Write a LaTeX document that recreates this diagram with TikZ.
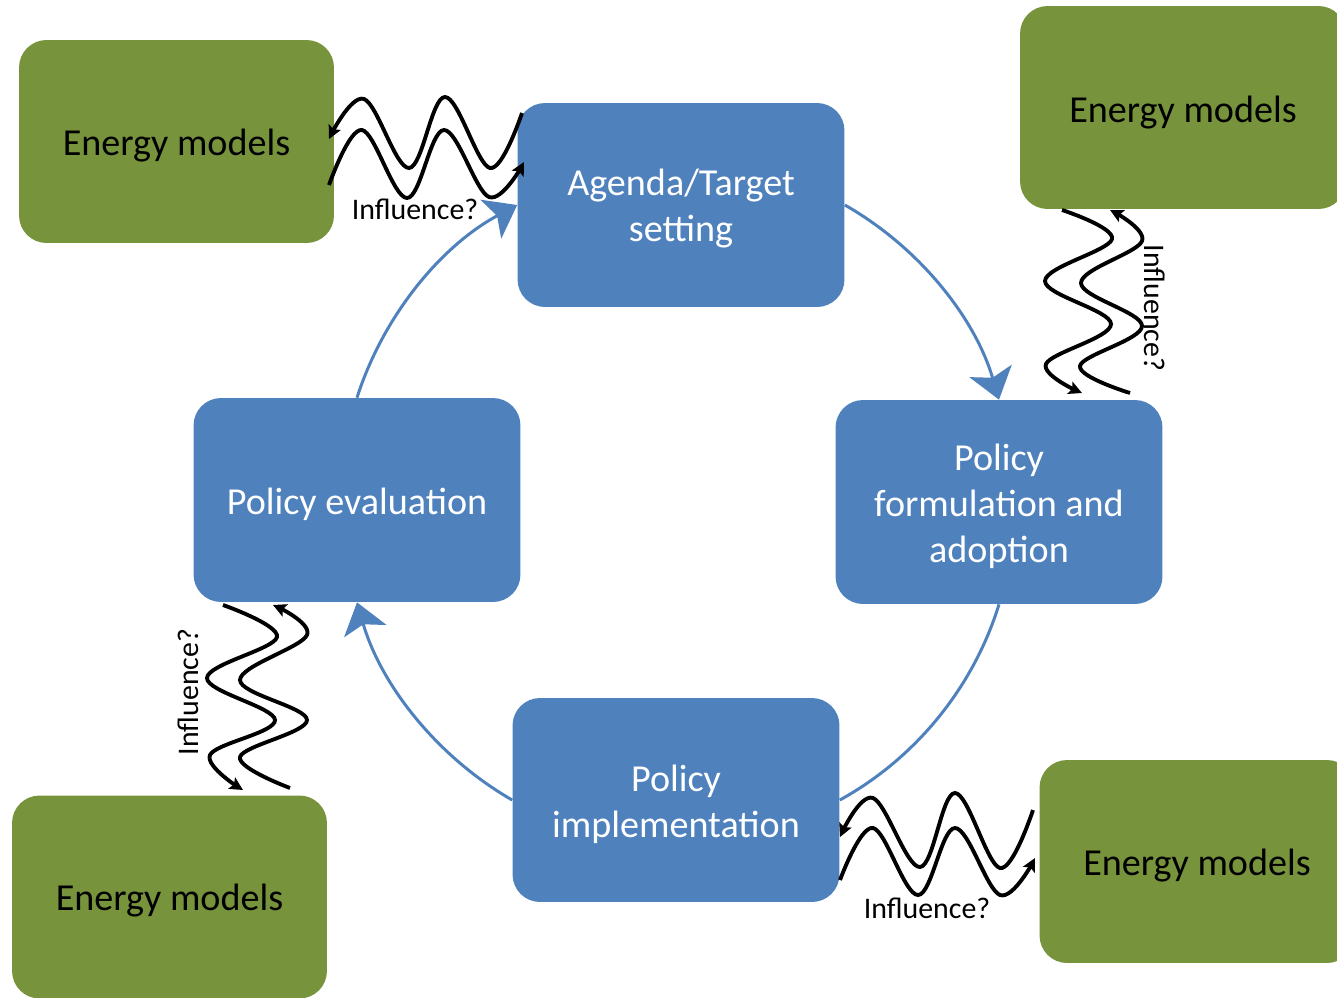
\documentclass[tikz,border=0pt]{standalone}
\usepackage{fontspec}
\setmainfont{Carlito}
\usetikzlibrary{arrows.meta}
\definecolor{boxblue}{HTML}{4F81BD}
\definecolor{boxgreen}{HTML}{77933C}
\begin{document}
\begin{tikzpicture}[x=0.02cm,y=-0.02cm,
  bluebox/.style={fill=boxblue, rounded corners=0.55cm, minimum width=6.54cm, minimum height=4.08cm, inner sep=0pt},
  greenbox/.style={fill=boxgreen, rounded corners=0.55cm, minimum width=6.3cm, minimum height=4.06cm, inner sep=0pt},
  bluetext/.style={text=white, align=center, font=\fontsize{21.7}{26.2}\selectfont, inner sep=0pt},
  greentext/.style={text=black, align=center, font=\fontsize{21.7}{26.2}\selectfont, inner sep=0pt},
  cyc/.style={draw=boxblue, line width=1.7pt, looseness=0.88, bend left=22},
  cycarrow/.style={cyc, -{Stealth[length=17pt,width=25pt,inset=4pt]}},
  wave/.style={line width=2.2pt, -{Stealth[length=7.5pt,width=7.5pt,inset=1.5pt]}},
  lbl/.style={font=\fontsize{17}{20}\selectfont, inner sep=0pt, text=black}]
\useasboundingbox (0,0) rectangle (1337,997);
\clip (0,0) rectangle (1337,997);

% process boxes
\node[bluebox] (agenda) at (681,205) {};
\node[bluebox] (form) at (999,502) {};
\node[bluebox] (impl) at (676,800) {};
\node[bluebox] (eval) at (357,500) {};
\node[bluetext] (agendaT) at ([yshift=-0.08cm]agenda.center) {Agenda/Target\\setting};
\node[bluetext] (formT) at ([yshift=-0.08cm]form.center) {Policy\\formulation and\\adoption};
\node[bluetext] (implT) at ([yshift=-0.08cm]impl.center) {Policy\\implementation};
\node[bluetext] (evalT) at ([yshift=-0.08cm]eval.center) {Policy evaluation};

% energy model boxes
\node[greenbox] (tl) at (176.5,141.5) {};
\node[greenbox, minimum width=6.52cm] (tr) at (1183,107.5) {};
\node[greenbox] (bl) at (169.5,897) {};
\node[greenbox] (br) at (1197,861.5) {};
\node[greentext] (tlT) at ([yshift=-0.08cm]tl.center) {Energy models};
\node[greentext] (trT) at ([yshift=-0.1cm]tr.center) {Energy models};
\node[greentext] (blT) at ([yshift=-0.08cm]bl.center) {Energy models};
\node[greentext] (brT) at ([yshift=-0.08cm]br.center) {Energy models};

% cycle
\draw[cycarrow] (agenda.east) to (form.north);
\draw[cyc] (form.south) to (impl.east);
\draw[cycarrow] (impl.west) to (eval.south);
\draw[cycarrow] (eval.north) to (agenda.west);

% influence waves
\draw[wave] plot[smooth, tension=0.6] coordinates {(522,113) (490,168) (445,97) (409,168) (364,99) (329,139)};
\draw[wave] plot[smooth, tension=0.6] coordinates {(329,185) (362,130) (407,198) (444,130) (489,197) (524,162)};

\draw[wave] plot[smooth, tension=0.6] coordinates {(1062,210) (1112,239) (1045,281) (1111,324) (1046,364) (1082,393)};
\draw[wave] plot[smooth, tension=0.6] coordinates {(1130,393) (1080,366) (1142,326) (1081,283) (1142,241) (1110,210)};

\draw[wave] plot[smooth, tension=0.6] coordinates {(223,605) (277,637) (207,678) (275,720) (210,755) (243,790)};
\draw[wave] plot[smooth, tension=0.6] coordinates {(290,788) (240,757) (307,720) (240,680) (307,635) (273,605)};

\draw[wave] plot[smooth, tension=0.6] coordinates {(1033,810) (1000,868) (955,793) (920,867) (873,798) (840,837)};
\draw[wave] plot[smooth, tension=0.6] coordinates {(840,880) (873,828) (918,895) (955,828) (1000,895) (1035,858)};

% labels
\node[lbl] (l1) at (415,209) {Influence?};
\node[lbl, rotate=-90] (l2) at (1155,308) {Influence?};
\node[lbl, rotate=90] (l3) at (188,692) {Influence?};
\node[lbl] (l4) at (927,908) {Influence?};
\end{tikzpicture}
\end{document}
